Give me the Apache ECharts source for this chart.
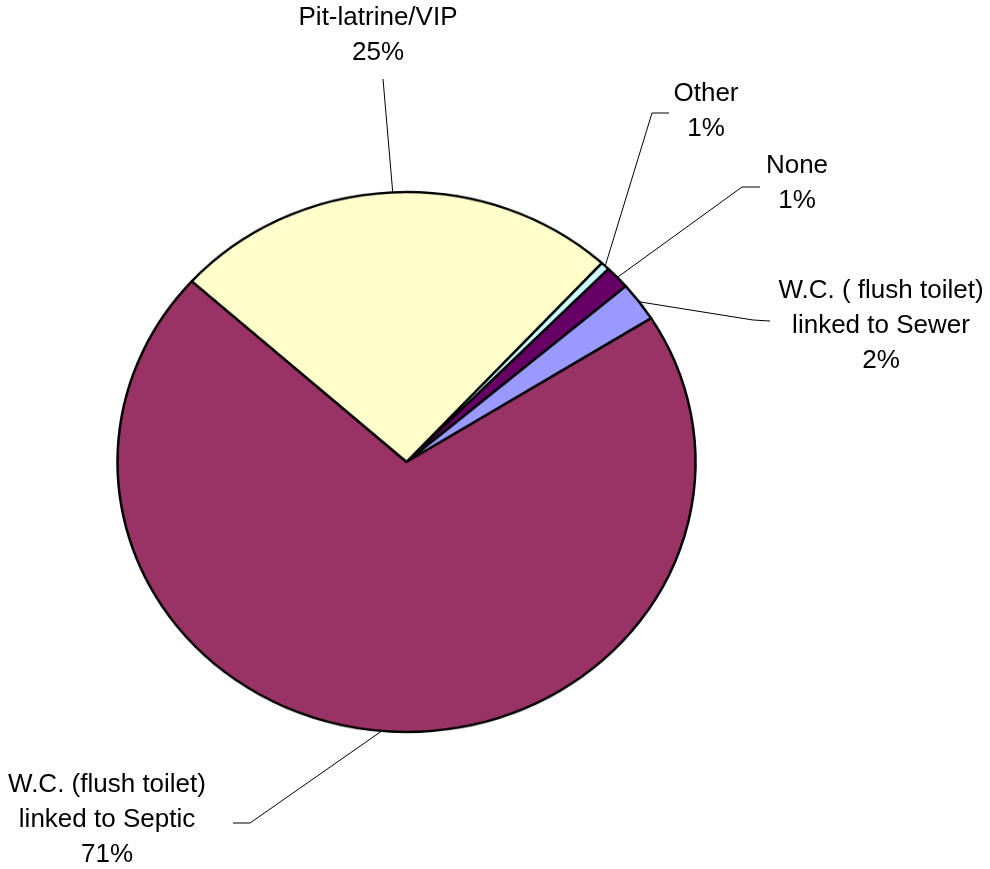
<!DOCTYPE html>
<html lang="en">
<head>
<meta charset="UTF-8">
<title>Toilet facilities</title>
<script src="https://cdn.jsdelivr.net/npm/echarts@6/dist/echarts.min.js"></script>
<style>
  html, body { margin: 0; padding: 0; background: #fff; }
  #wrap { position: relative; width: 990px; height: 869px; overflow: hidden; }
  #pie, #labels { position: absolute; left: 0; top: 0; width: 990px; height: 869px; }
  /* the original pie is a little flatter than a circle */
  #pie { transform-origin: 0 462px; transform: scaleY(0.9343); }
</style>
</head>
<body>
<div id="wrap"><div id="pie"></div><div id="labels"></div></div>
<script type="text/javascript">
var categories = [
    'Pit-latrine/VIP',
    'Other',
    'None',
    'W.C. ( flush toilet)\nlinked to Sewer',
    'W.C. (flush toilet)\nlinked to Septic'
];
var shares = [25.15, 0.5, 1.4, 2.35, 70.6];
var colors = ['#FFFFCC', '#CCFFFF', '#660066', '#9999FF', '#993366'];

var CX = 406.5, CY = 462, R = 289, SQUASH = 0.9343;
var FONT = 'Liberation Sans, Arial, sans-serif';

// where each label sits (centre of text block) and the leader bends
var labelSpots = [
    {x: 378, y: 35,  bend: [[383, 79], [383, 79]]},
    {x: 706, y: 111, bend: [[652, 113], [669, 113]]},
    {x: 797, y: 183, bend: [[742, 187], [760, 187]]},
    {x: 881, y: 326, bend: [[753, 320], [770, 321]]},
    {x: 107, y: 820, bend: [[250, 823], [233, 823]]}
];

var pieData = categories.map(function (c, i) {
    return {name: c, value: shares[i], itemStyle: {color: colors[i]}};
});

var pieChart = echarts.init(document.getElementById('pie'));
pieChart.setOption({
    animation: false,
    series: [{
        type: 'pie',
        center: [CX, CY],
        radius: R,
        startAngle: 138,
        clockwise: true,
        label: {show: false},
        labelLine: {show: false},
        emphasis: {disabled: true},
        itemStyle: {borderColor: '#000', borderWidth: 2.5},
        data: pieData
    }]
});

// labels drawn on an unsquashed copy so the text keeps its shape
var labelChart = echarts.init(document.getElementById('labels'));
labelChart.setOption({
    animation: false,
    series: [{
        type: 'pie',
        center: [CX, CY],
        radius: R,
        startAngle: 138,
        clockwise: true,
        avoidLabelOverlap: false,
        emphasis: {disabled: true},
        itemStyle: {color: 'rgba(0,0,0,0)', borderWidth: 0},
        label: {
            show: true,
            position: 'outside',
            color: '#000',
            fontFamily: FONT,
            fontSize: 26,
            lineHeight: 35,
            align: 'center',
            formatter: function (p) {
                return p.name + '\n' + Math.round(p.percent) + '%';
            }
        },
        labelLine: {show: true, lineStyle: {color: '#000', width: 1}},
        labelLayout: function (params) {
            var s = labelSpots[params.dataIndex];
            var p0 = params.labelLinePoints[0];
            var edge = [p0[0], CY + (p0[1] - CY) * SQUASH];
            return {
                x: s.x,
                y: s.y,
                align: 'center',
                verticalAlign: 'middle',
                labelLinePoints: [edge, s.bend[0], s.bend[1]]
            };
        },
        data: categories.map(function (c, i) {
            return {name: c, value: shares[i]};
        })
    }]
});
</script>
</body>
</html>
